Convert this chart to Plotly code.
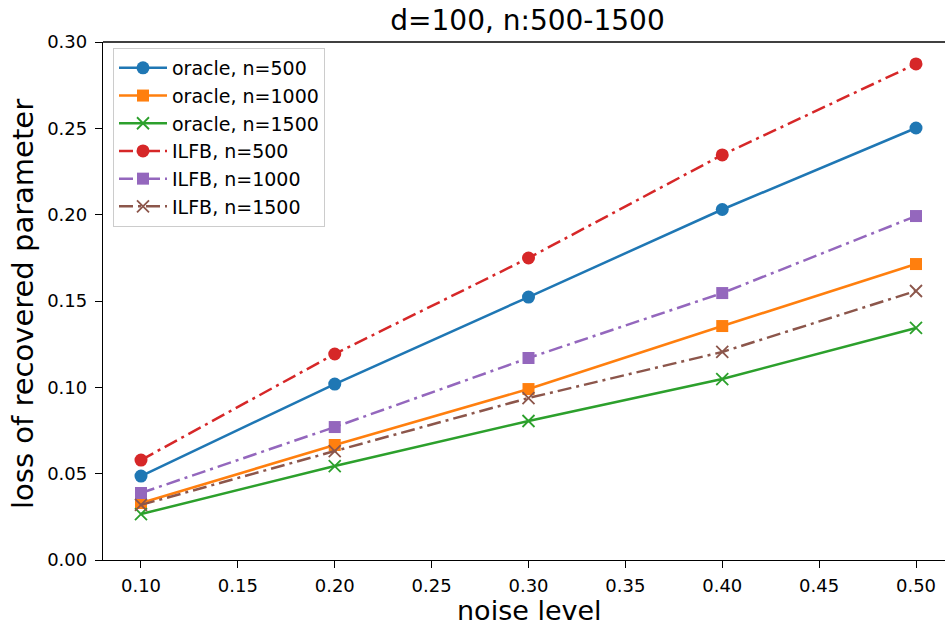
import plotly.graph_objects as go

noise = [0.1, 0.2, 0.3, 0.4, 0.5]
oracle_500 = [0.0486, 0.1019, 0.1523, 0.2030, 0.2502]
oracle_1000 = [0.0330, 0.0666, 0.0990, 0.1355, 0.1714]
oracle_1500 = [0.0266, 0.0544, 0.0805, 0.1048, 0.1344]
ilfb_500 = [0.0579, 0.1193, 0.1749, 0.2346, 0.2873]
ilfb_1000 = [0.0388, 0.0770, 0.1170, 0.1546, 0.1992]
ilfb_1500 = [0.0319, 0.0631, 0.0938, 0.1205, 0.1558]

x_ticks = [0.1, 0.15, 0.2, 0.25, 0.3, 0.35, 0.4, 0.45, 0.5]
y_ticks = [0, 0.05, 0.1, 0.15, 0.2, 0.25, 0.3]

DD = "14px,5px,3px,5px"
series = [
    ("oracle, n=500", oracle_500, "#1f77b4", "circle", "solid"),
    ("oracle, n=1000", oracle_1000, "#ff7f0e", "square", "solid"),
    ("oracle, n=1500", oracle_1500, "#2ca02c", "x-thin", "solid"),
    ("ILFB, n=500", ilfb_500, "#d62728", "circle", DD),
    ("ILFB, n=1000", ilfb_1000, "#9467bd", "square", DD),
    ("ILFB, n=1500", ilfb_1500, "#8c564b", "x-thin", DD),
]

fig = go.Figure()
for name, ys, color, sym, dash in series:
    size = {"circle": 13, "square": 12, "x-thin": 12}[sym]
    fig.add_trace(go.Scatter(
        x=noise, y=ys, name=name, mode="lines+markers",
        line=dict(color=color, width=2.5, dash=dash),
        marker=dict(symbol=sym, size=size, color=color,
                    line=dict(color=color, width=1.8 if sym == "x-thin" else 0)),
    ))

font = "DejaVu Sans, sans-serif"
W, H = 945, 625
L, T, B = 103, 42, 65
PW, PH = W - L, H - T - B
fig.update_layout(
    width=W, height=H,
    margin=dict(l=L, r=0, t=T, b=B),
    paper_bgcolor="white", plot_bgcolor="white",
    font=dict(family=font, color="black", size=18),
    title=dict(text="d=100, n:500-1500", x=527.5 / W, xanchor="center",
               y=1 - 20 / H, yanchor="middle", font=dict(size=28)),
    xaxis=dict(range=[0.08039, 0.51497], tickvals=x_ticks,
               tickformat=".2f", ticks="outside", ticklen=7, tickwidth=1.3, tickcolor="black",
               showline=True, linecolor="black", linewidth=1.3, showgrid=False, zeroline=False,
               ticklabelstandoff=2),
    yaxis=dict(range=[0, 0.30], tickvals=y_ticks,
               tickformat=".2f", ticks="outside", ticklen=7, tickwidth=1.3, tickcolor="black",
               showline=True, linecolor="black", linewidth=1.3, showgrid=False, zeroline=False,
               ticklabelstandoff=4),
    legend=dict(x=10 / PW, y=1 - 6 / PH, xanchor="left", yanchor="top",
                bgcolor="rgba(255,255,255,0.8)", bordercolor="#cccccc", borderwidth=1,
                font=dict(size=19), tracegroupgap=0, itemwidth=48),
    showlegend=True,
)
fig.add_annotation(text="noise level", xref="paper", yref="paper",
                   x=(529 - L) / PW, y=-(B + 2) / PH, xanchor="center", yanchor="bottom",
                   borderpad=0, showarrow=False, font=dict(size=27))
fig.add_annotation(text="loss of recovered parameter", xref="paper", yref="paper",
                   x=(23 - L) / PW, y=(560 - 304) / PH, xanchor="center", yanchor="middle",
                   textangle=-90, showarrow=False, font=dict(size=29))
fig.add_shape(type="line", xref="paper", yref="paper", x0=0, x1=1, y0=1, y1=1,
              line=dict(color="black", width=1.3))
fig.write_html("out.html", config={"displayModeBar": False},
               post_script="document.body.style.margin='0';")
